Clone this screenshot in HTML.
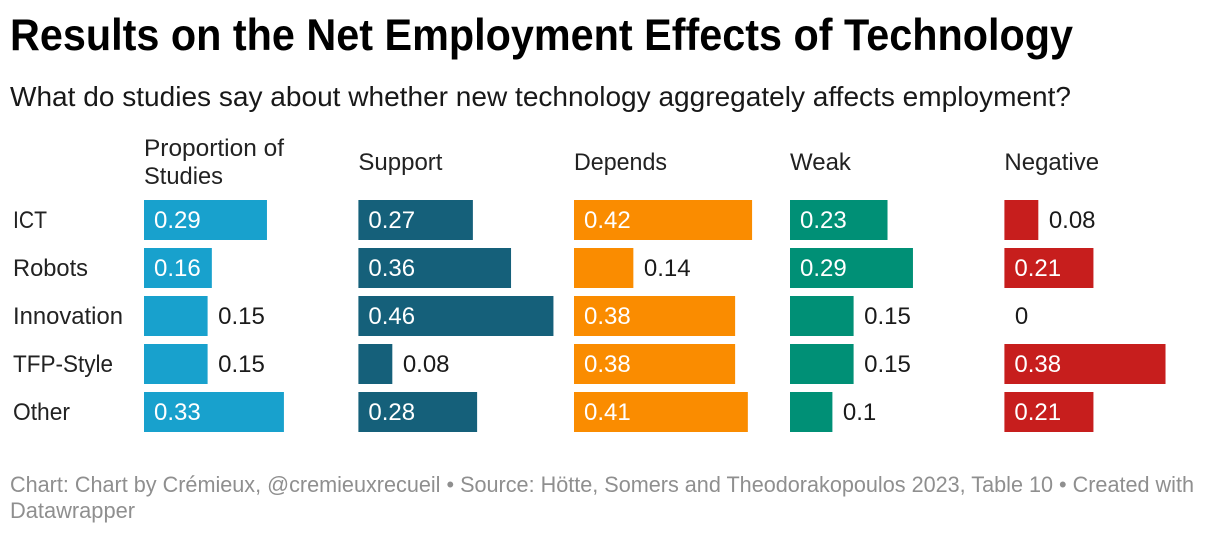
<!DOCTYPE html>
<html lang="en">
<head>
<meta charset="utf-8">
<title>Results on the Net Employment Effects of Technology</title>
<style>
html,body{margin:0;padding:0;background:#fff;width:1220px;height:534px;overflow:hidden}
svg{display:block}
text{font-family:"Liberation Sans",sans-serif}
</style>
</head>
<body>
<svg id="chart" width="1220" height="534" viewBox="0 0 1220 534" xmlns="http://www.w3.org/2000/svg">
<rect width="1220" height="534" fill="#ffffff"/>
<text x="10" y="50" font-size="44.5" font-weight="700" fill="#000" textLength="1063" lengthAdjust="spacingAndGlyphs">Results on the Net Employment Effects of Technology</text>
<text x="10" y="106" font-size="27.5" fill="#181818" textLength="1061" lengthAdjust="spacingAndGlyphs">What do studies say about whether new technology aggregately affects employment?</text>
<text x="144" y="156" font-size="24" fill="#222" textLength="140" lengthAdjust="spacingAndGlyphs">Proportion of</text>
<text x="144" y="184" font-size="24" fill="#222" textLength="79" lengthAdjust="spacingAndGlyphs">Studies</text>
<text x="10" y="492" font-size="22" fill="#8f8f8f" textLength="1184" lengthAdjust="spacingAndGlyphs">Chart: Chart by Crémieux, @cremieuxrecueil • Source: Hötte, Somers and Theodorakopoulos 2023, Table 10 • Created with</text>
<text x="10" y="518" font-size="22" fill="#8f8f8f" textLength="125" lengthAdjust="spacingAndGlyphs">Datawrapper</text>
<g id="marks"></g>
</svg>
<script>
const categories = ["ICT", "Robots", "Innovation", "TFP-Style", "Other"];
const proportion = [0.29, 0.16, 0.15, 0.15, 0.33];
const support = [0.27, 0.36, 0.46, 0.08, 0.28];
const depends = [0.42, 0.14, 0.38, 0.38, 0.41];
const weak = [0.23, 0.29, 0.15, 0.15, 0.1];
const negative = [0.08, 0.21, 0, 0.38, 0.21];
const seriesNames = ["Proportion of Studies", "Support", "Depends", "Weak", "Negative"];
const seriesValues = [proportion, support, depends, weak, negative];
const seriesColors = ["#18a1cd", "#15607a", "#fa8c00", "#009076", "#c71e1d"];

const NS = "http://www.w3.org/2000/svg";
const marks = document.getElementById("marks");
const panelLeft = [144, 358.4, 574, 790, 1004.4];
const xScale = v => v * 424;
const yScale = i => 200 + i * 48;
const rowHeight = 40;
const labelFit = { "ICT": 34, "Robots": 75, "Innovation": 110, "TFP-Style": 100, "Other": 57, "Depends": 93 };

function addText(content, x, y, fill) {
  const t = document.createElementNS(NS, "text");
  t.setAttribute("x", x);
  t.setAttribute("y", y);
  t.setAttribute("font-size", "24");
  t.setAttribute("fill", fill);
  t.setAttribute("lengthAdjust", "spacingAndGlyphs");
  if (labelFit[content]) t.setAttribute("textLength", labelFit[content]);
  t.textContent = content;
  marks.appendChild(t);
  return t;
}

categories.forEach((name, i) => {
  const label = addText(name, 13, yScale(i) + 28, "#222");
  
  
});

seriesNames.forEach((series, s) => {
  if (s > 0) {
    const head = addText(series, panelLeft[s], 170, "#222");
    
    
  }
  seriesValues[s].forEach((value, i) => {
    const w = xScale(value);
    const bar = document.createElementNS(NS, "rect");
    
    
    bar.setAttribute("x", panelLeft[s]);
    bar.setAttribute("y", yScale(i));
    bar.setAttribute("width", w);
    bar.setAttribute("height", rowHeight);
    bar.setAttribute("fill", seriesColors[s]);
    marks.appendChild(bar);
    const inside = w > 66;
    const lx = inside ? panelLeft[s] + 10 : panelLeft[s] + w + 10.5;
    const lab = addText(String(value), lx, yScale(i) + 28, inside ? "#ffffff" : "#1a1a1a");
    
    
  });
});
</script>
</body>
</html>
